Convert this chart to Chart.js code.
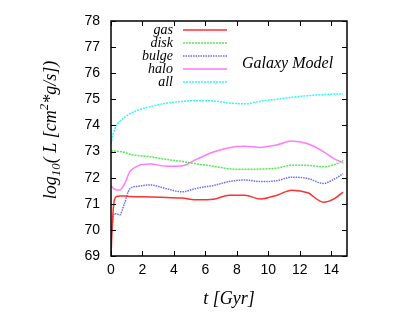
<!DOCTYPE html>
<html>
<head>
<meta charset="utf-8">
<script src="https://cdn.jsdelivr.net/npm/chart.js@4.4.0/dist/chart.umd.min.js"></script>
<style>
html, body { margin: 0; padding: 0; background: #fff; }
#wrap { width: 415px; height: 312px; }
</style>
</head>
<body>
<div id="wrap"><canvas id="myChart"></canvas></div>
<script>
// time in Gyr, denser at the start where the curves jump
const times = [0, 0.1, 0.2, 0.35, 0.55, 0.85, 1.2, 1.7, 2.5, 3.5, 4.5, 5.5, 6.5, 7.5, 8.5, 9.5, 10.5, 11.5, 12.5, 13.5, 14.2, 14.75];
const gas   = [69.0, 70.4, 71.1, 71.28, 71.3, 71.3, 71.28, 71.27, 71.26, 71.24, 71.22, 71.15, 71.17, 71.33, 71.33, 71.18, 71.32, 71.52, 71.42, 71.06, 71.2, 71.45];
const disk  = [73.02, 73.02, 73.02, 73.01, 73.0, 72.97, 72.9, 72.85, 72.8, 72.7, 72.62, 72.52, 72.44, 72.34, 72.32, 72.33, 72.36, 72.48, 72.47, 72.42, 72.5, 72.66];
const bulge = [69.7, 70.3, 70.62, 70.62, 70.57, 71.0, 71.58, 71.67, 71.72, 71.58, 71.46, 71.6, 71.7, 71.85, 71.91, 71.85, 71.88, 72.02, 71.97, 71.78, 71.95, 72.15];
const halo  = [71.68, 71.62, 71.57, 71.53, 71.53, 71.75, 72.23, 72.45, 72.52, 72.44, 72.45, 72.72, 72.98, 73.15, 73.2, 73.16, 73.25, 73.4, 73.3, 73.0, 72.72, 72.58];
const all   = [73.3, 73.6, 73.8, 74.0, 74.15, 74.3, 74.45, 74.58, 74.72, 74.85, 74.92, 74.95, 74.94, 74.86, 74.83, 74.93, 75.0, 75.08, 75.14, 75.18, 75.2, 75.2];

const seriesNames = ['gas', 'disk', 'bulge', 'halo', 'all'];
const xTicks = [0, 2, 4, 6, 8, 10, 12, 14];
const yTicks = [69, 70, 71, 72, 73, 74, 75, 76, 77, 78];

const colors = ['#ff3030', '#55e855', '#6a6aff', '#ff7aff', '#30f8f8'];
const dashes = [[], [2, 1], [1.5, 1], [], [2, 1]];

function pts(vals) {
    return vals.map((v, i) => ({ x: times[i], y: v }));
}

const serif = '"Liberation Serif", "DejaVu Serif", serif';

const framePlugin = {
    id: 'frame',
    afterDatasetsDraw(chart) {
        const { ctx, chartArea: a, scales } = chart;
        const x = scales.x, y = scales.y;
        ctx.save();
        ctx.strokeStyle = '#000';
        ctx.lineWidth = 1;
        ctx.setLineDash([]);
        ctx.beginPath();
        xTicks.forEach(v => {
            const px = Math.round(x.getPixelForValue(v)) + 0.5;
            ctx.moveTo(px, a.bottom); ctx.lineTo(px, a.bottom - 5);
            ctx.moveTo(px, a.top); ctx.lineTo(px, a.top + 5);
        });
        yTicks.forEach(v => {
            const py = Math.round(y.getPixelForValue(v)) + 0.5;
            ctx.moveTo(a.left, py); ctx.lineTo(a.left + 5, py);
            ctx.moveTo(a.right, py); ctx.lineTo(a.right - 5, py);
        });
        ctx.stroke();
        ctx.lineWidth = 1.5;
        ctx.strokeRect(a.left, a.top, a.width, a.height);

        // legend: right-aligned names, sample line to the right
        ctx.font = 'italic 14px ' + serif;
        ctx.textAlign = 'right';
        ctx.textBaseline = 'alphabetic';
        seriesNames.forEach((name, i) => {
            const ly = 30 + i * 13;
            ctx.fillStyle = '#000';
            ctx.fillText(name, 173, ly + 3.5);
            ctx.save();
            ctx.strokeStyle = colors[i];
            ctx.lineWidth = 1.5;
            ctx.setLineDash(dashes[i]);
            ctx.beginPath();
            ctx.moveTo(183, ly);
            ctx.lineTo(227, ly);
            ctx.stroke();
            ctx.restore();
        });

        ctx.fillStyle = '#000';
        ctx.font = 'italic 16px ' + serif;
        ctx.textAlign = 'left';
        ctx.fillText('Galaxy Model', 242, 68);

        // y title with sub/superscripts
        const parts = [
            { t: 'log', s: 18, dy: 0 },
            { t: '10', s: 13, dy: 4 },
            { t: '( L [cm', s: 18, dy: 0 },
            { t: '2', s: 13, dy: -8 },
            { t: '*g/s])', s: 18, dy: 0 }
        ];
        let total = 0;
        parts.forEach(p => {
            ctx.font = 'italic ' + p.s + 'px ' + serif;
            p.w = ctx.measureText(p.t).width;
            total += p.w;
        });
        ctx.translate(56, 130);
        ctx.rotate(-Math.PI / 2);
        let cx = -total / 2;
        parts.forEach(p => {
            ctx.font = 'italic ' + p.s + 'px ' + serif;
            ctx.fillText(p.t, cx, p.dy);
            cx += p.w;
        });
        ctx.restore();
    }
};

const allSeries = [gas, disk, bulge, halo, all];

new Chart(document.getElementById('myChart'), {
    type: 'line',
    data: {
        datasets: allSeries.map((vals, i) => ({
            label: seriesNames[i],
            data: pts(vals),
            borderColor: colors[i],
            borderWidth: 1.5,
            borderDash: dashes[i],
            pointRadius: 0,
            fill: false,
            cubicInterpolationMode: 'monotone'
        }))
    },
    options: {
        responsive: true,
        maintainAspectRatio: false,
        animation: false,
        devicePixelRatio: 1,
        layout: { padding: { left: 0, right: 68, top: 21, bottom: 0 } },
        plugins: {
            legend: { display: false },
            tooltip: { enabled: false }
        },
        scales: {
            x: {
                type: 'linear',
                min: 0,
                max: 15,
                grid: { display: false, drawTicks: false },
                border: { display: false },
                afterFit: s => { s.height = 56; },
                afterBuildTicks: s => { s.ticks = xTicks.map(v => ({ value: v })); },
                ticks: {
                    padding: 6,
                    color: '#000',
                    maxRotation: 0,
                    font: { family: '"Liberation Sans", Arial, sans-serif', size: 14 }
                },
                title: {
                    display: true,
                    text: 't [Gyr]',
                    color: '#000',
                    padding: { top: 0, bottom: 2 },
                    font: { family: serif, size: 18, style: 'italic' }
                }
            },
            y: {
                min: 69,
                max: 78,
                grid: { display: false, drawTicks: false },
                border: { display: false },
                afterFit: s => { s.width = 111; },
                afterBuildTicks: s => { s.ticks = yTicks.map(v => ({ value: v })); },
                ticks: {
                    padding: 11,
                    color: '#000',
                    font: { family: '"Liberation Sans", Arial, sans-serif', size: 14 }
                }
            }
        }
    },
    plugins: [framePlugin]
});
</script>
</body>
</html>
